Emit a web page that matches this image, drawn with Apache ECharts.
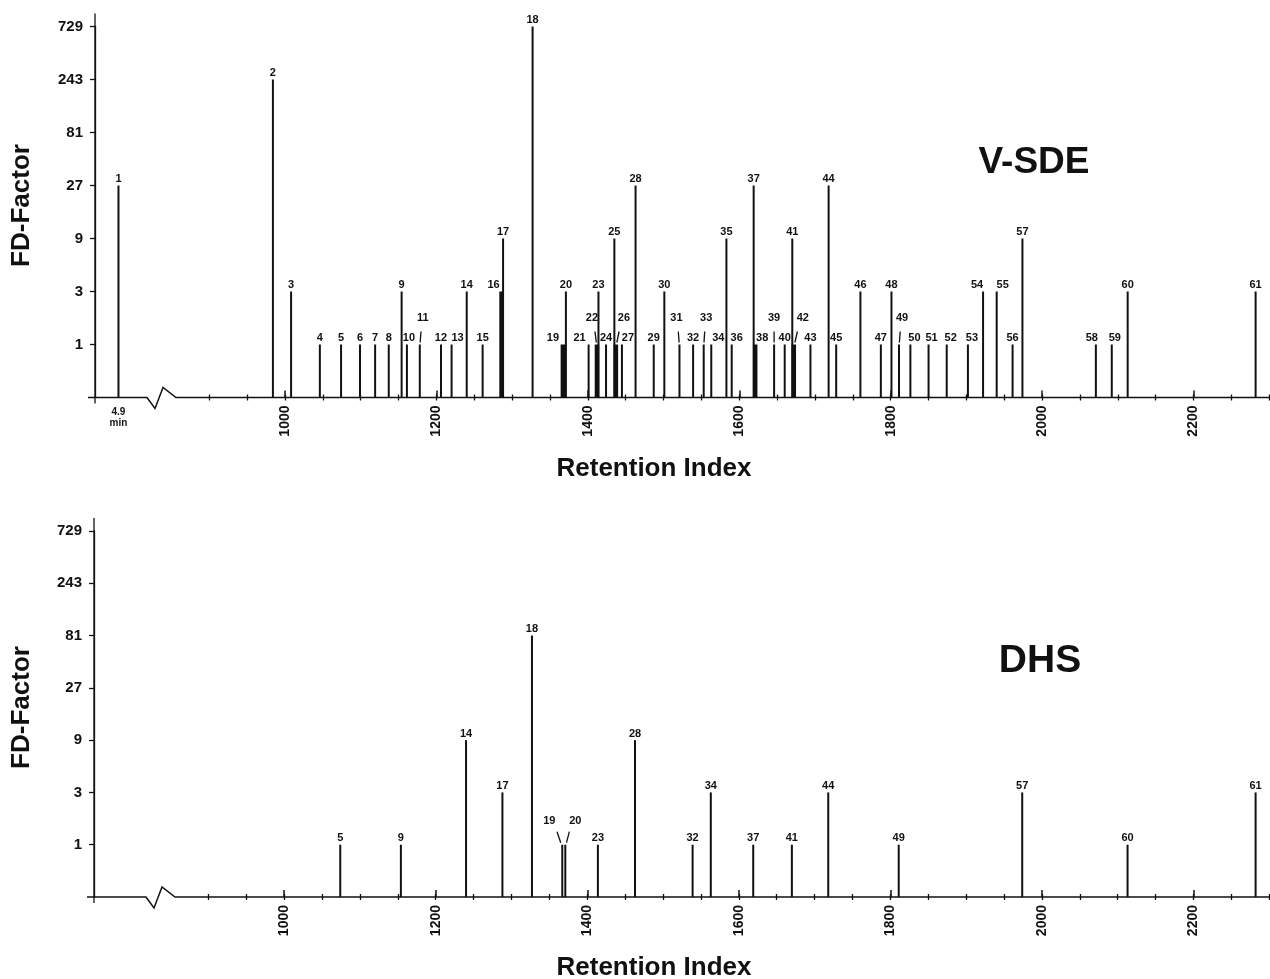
<!DOCTYPE html>
<html>
<head>
<meta charset="utf-8">
<script src="https://cdn.jsdelivr.net/npm/echarts@6/dist/echarts.min.js"></script>
<style>
html,body{margin:0;padding:0;background:#fff;}
#c{width:1270px;height:979px;}
</style>
</head>
<body>
<div id="c"></div>
<script>
// ---------------- DATA ----------------
// Peak numbers (odour-active compounds), V-SDE aromagram
const peakIds = ['1','2','3','4','5','6','7','8','9','10',
  '11','12','13','14','15','16','17','18','19','20',
  '21','22','23','24','25','26','27','28','29','30',
  '31','32','33','34','35','36','37','38','39','40',
  '41','42','43','44','45','46','47','48','49','50',
  '51','52','53','54','55','56','57','58','59','60','61'];
// Retention index of each peak (peak 1 elutes at 4.9 min, shown left of the axis break)
const retentionIdx = [780, 984, 1008, 1046, 1074, 1099, 1119, 1137, 1154, 1161,
  1178, 1206, 1220, 1240, 1261, 1286, 1288, 1327, 1367, 1371,
  1401, 1412, 1414, 1424, 1435, 1437, 1445, 1463, 1487, 1501,
  1521, 1539, 1553, 1563, 1583, 1590, 1619, 1621, 1646, 1660,
  1670, 1672, 1694, 1718, 1728, 1760, 1787, 1801, 1811, 1826,
  1850, 1874, 1902, 1922, 1940, 1961, 1974, 2071, 2092, 2113, 2282];
// FD factors, V-SDE
const fdVSDE = [27, 243, 3, 1, 1, 1, 1, 1, 3, 1,
  1, 1, 1, 3, 1, 3, 9, 729, 1, 3,
  1, 1, 3, 1, 9, 1, 1, 27, 1, 3,
  1, 1, 1, 1, 9, 1, 27, 1, 1, 1,
  9, 1, 1, 27, 1, 3, 1, 3, 1, 1,
  1, 1, 1, 3, 3, 1, 9, 1, 1, 3, 3];
// Peaks found with DHS and their FD factors
const dhsIds = ['5','9','14','17','18','19','20','23','28','32','34','37','41','44','49','57','60','61'];
const fdDHS  = [1, 1, 9, 3, 81, 1, 1, 1, 9, 1, 3, 1, 1, 3, 1, 3, 1, 3];
// Axis ticks
const yTickValues = [1, 3, 9, 27, 81, 243, 729];
const xLabelValues = [1000, 1200, 1400, 1600, 1800, 2000, 2200];
const xMinorValues = [900, 950, 1000, 1050, 1100, 1150, 1200, 1250, 1300, 1350, 1400, 1450,
  1500, 1550, 1600, 1650, 1700, 1750, 1800, 1850, 1900, 1950, 2000, 2050, 2100, 2150,
  2200, 2250, 2300];
const firstPeakLabel = '4.9\nmin';

// ---------------- STYLE / LAYOUT ----------------
const FONT = '"Liberation Sans", Arial, Helvetica, sans-serif';
const INK = '#111';
const X_MIN = 749, X_MAX = 2301;
const Y_MIN = 1 / 3, Y_MAX = 729;
const grids = [
  {left: 95, top: 26.5, width: 1175, height: 371},
  {left: 94, top: 531, width: 1176, height: 366}
];
const axisOverhang = 13;   // y-axis line continues a little above 729
const labelStyle = [
  { '10':{dx:2}, '11':{dx:3,raise:20,arrow:true}, '13':{dx:6}, '16':{dx:-8}, '19':{dx:-10},
    '21':{dx:-9}, '22':{dx:-5,raise:20,arrow:true}, '26':{dx:8,raise:20,arrow:true}, '27':{dx:6},
    '31':{dx:-3,raise:20,arrow:true}, '33':{dx:2.5,raise:20,arrow:true}, '34':{dx:7}, '36':{dx:5},
    '38':{dx:7}, '39':{dx:0,raise:20,arrow:true}, '42':{dx:9,raise:20,arrow:true},
    '49':{dx:3,raise:20,arrow:true}, '50':{dx:4}, '51':{dx:3}, '52':{dx:4}, '53':{dx:4},
    '54':{dx:-6}, '55':{dx:6}, '58':{dx:-4}, '59':{dx:3} },
  { '19':{dx:-13,raise:17,arrow:true}, '20':{dx:10,raise:17,arrow:true} }
];
const thickPeaks = [['16','19','22','26','38','42'], []];

// ---------------- BUILD ----------------
const riById = {};
peakIds.forEach((id, i) => { riById[id] = retentionIdx[i]; });
const panels = [
  { ids: peakIds, data: peakIds.map((id, i) => [retentionIdx[i], fdVSDE[i]]) },
  { ids: dhsIds, data: dhsIds.map((id, i) => [riById[id], fdDHS[i]]) }
];

function makeRender(p) {
  return function (params, api) {
    const id = panels[p].ids[params.dataIndex];
    const x = api.value(0), v = api.value(1);
    const top = api.coord([x, v]);
    const base = api.coord([x, Y_MIN]);
    const w = thickPeaks[p].indexOf(id) >= 0 ? 4.5 : 2;
    const ls = labelStyle[p][id] || {};
    const dx = ls.dx || 0, raise = ls.raise || 0;
    const children = [
      {type: 'rect', shape: {x: top[0] - w / 2, y: top[1], width: w, height: base[1] - top[1]},
       style: {fill: INK}},
      {type: 'text', style: {text: id, x: top[0] + dx, y: top[1] - 1 - raise,
        align: 'center', verticalAlign: 'bottom', font: 'bold 11px ' + FONT, fill: INK}}
    ];
    if (ls.arrow) {
      children.push({type: 'line', shape: {x1: top[0] + dx * 0.4, y1: top[1] - 13,
        x2: top[0] + dx * 0.12, y2: top[1] - 2}, style: {stroke: INK, lineWidth: 1.3}});
    }
    return {type: 'group', children: children};
  };
}

const xAxes = [], yAxes = [], series = [];
grids.forEach((g, gi) => {
  // main axis: labelled ticks every 200
  xAxes.push({
    type: 'value', gridIndex: gi, position: 'bottom', min: X_MIN, max: X_MAX,
    axisLine: {show: false, onZero: false}, splitLine: {show: false},
    axisTick: {show: true, customValues: xLabelValues, inside: true, length: 7,
      lineStyle: {color: INK, width: 1.5}},
    axisLabel: {show: true, customValues: xLabelValues, rotate: 90, margin: 8,
      formatter: v => String(v),
      fontFamily: FONT, fontWeight: 'bold', fontSize: 14, color: INK}
  });
  // minor ticks every 50 (below the line)
  xAxes.push({
    type: 'value', gridIndex: gi, position: 'bottom', offset: 0, min: X_MIN, max: X_MAX,
    axisLine: {show: false, onZero: false}, splitLine: {show: false},
    axisTick: {show: true, customValues: xMinorValues, inside: false, length: 3,
      lineStyle: {color: INK, width: 1.3}},
    axisLabel: {show: false}
  });
  // minor ticks above the line + first-peak time label
  xAxes.push({
    type: 'value', gridIndex: gi, position: 'bottom', offset: 0, min: X_MIN, max: X_MAX,
    axisLine: {show: false, onZero: false}, splitLine: {show: false},
    axisTick: {show: true, customValues: xMinorValues, inside: true, length: 3,
      lineStyle: {color: INK, width: 1.3}},
    axisLabel: {show: gi === 0, customValues: [retentionIdx[0]], margin: 9,
      formatter: () => firstPeakLabel, fontFamily: FONT, fontWeight: 'bold',
      fontSize: 10, lineHeight: 11, color: INK}
  });
  yAxes.push({
    type: 'log', logBase: 3, gridIndex: gi, min: Y_MIN, max: Y_MAX,
    axisLine: {show: true, onZero: false, lineStyle: {color: INK, width: 1.3}},
    splitLine: {show: false}, minorTick: {show: false},
    axisTick: {show: true, customValues: yTickValues, length: 5, lineStyle: {color: INK, width: 1.3}},
    axisLabel: {customValues: yTickValues, margin: 12,
      formatter: v => String(Math.round(v)),
      fontFamily: FONT, fontWeight: 'bold', fontSize: 15, color: INK}
  });
  series.push({
    type: 'custom', xAxisIndex: gi * 3, yAxisIndex: gi, clip: false,
    data: panels[gi].data, renderItem: makeRender(gi), silent: true
  });
});

const chart = echarts.init(document.getElementById('c'));
chart.setOption({
  animation: false,
  backgroundColor: '#fff',
  grid: grids,
  xAxis: xAxes,
  yAxis: yAxes,
  series: series
});

// decorations: baseline with axis-break zigzag, axis overhang, titles
const graphics = [];
grids.forEach((g, gi) => {
  const by = chart.convertToPixel({seriesIndex: gi}, [1000, Y_MIN])[1];
  const ty = chart.convertToPixel({seriesIndex: gi}, [1000, Y_MAX])[1];
  const L = g.left, R = g.left + g.width;
  graphics.push({type: 'polyline', shape: {points: [[L - 7, by], [L + 52, by], [L + 60, by + 11],
      [L + 68, by - 10], [L + 81, by], [R, by]]},
    style: {stroke: INK, lineWidth: 1.5, fill: null}});
  graphics.push({type: 'line', shape: {x1: L, y1: ty - axisOverhang, x2: L, y2: by + 6},
    style: {stroke: INK, lineWidth: 1.3}});
  graphics.push({type: 'text', x: 22, y: (ty - axisOverhang + by) / 2, rotation: Math.PI / 2,
    style: {text: 'FD-Factor', font: 'bold 26px ' + FONT, fill: INK, align: 'center', verticalAlign: 'middle'}});
  graphics.push({type: 'text', x: 654, y: by + 71,
    style: {text: 'Retention Index', font: 'bold 26px ' + FONT, fill: INK, align: 'center', verticalAlign: 'middle'}});
});
graphics.push({type: 'text', x: 1034, y: 163,
  style: {text: 'V-SDE', font: 'bold 37px ' + FONT, fill: INK, align: 'center', verticalAlign: 'middle'}});
graphics.push({type: 'text', x: 1040, y: 661,
  style: {text: 'DHS', font: 'bold 39px ' + FONT, fill: INK, align: 'center', verticalAlign: 'middle'}});
chart.setOption({graphic: graphics});
</script>
</body>
</html>
